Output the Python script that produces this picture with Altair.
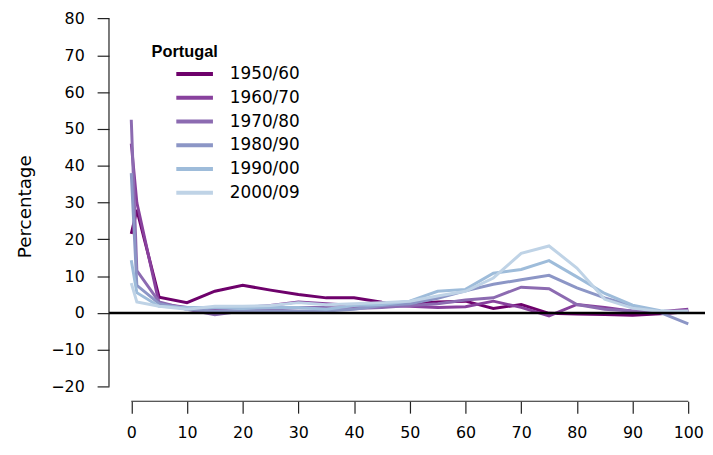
import altair as alt
import pandas as pd

ages = [0, 1, 5, 10, 15, 20, 25, 30, 35, 40, 45, 50, 55, 60, 65, 70, 75, 80, 85, 90, 95, 100]
periods = ["1950/60", "1960/70", "1970/80", "1980/90", "1990/00", "2000/09"]

s1950 = [21.5, 28.0, 4.3, 2.8, 5.9, 7.5, 6.2, 5.0, 4.1, 4.1, 2.9, 2.5, 3.0, 3.2, 1.2, 2.3, -0.1, -0.3, -0.4, -0.6, -0.2, 0.3]
s1960 = [46.0, 30.0, 2.5, 1.5, 1.0, 1.5, 2.0, 3.0, 2.5, 2.0, 2.0, 1.8, 1.5, 1.7, 3.2, 1.5, -0.8, 2.3, 1.5, 0.5, 0.3, 1.0]
s1970 = [52.5, 11.5, 3.0, 1.0, -0.5, 0.5, 1.0, 1.5, 1.5, 1.2, 1.5, 2.0, 2.5, 3.5, 4.1, 7.0, 6.6, 2.3, 1.0, 0.5, 0.2, 0.5]
s1980 = [38.0, 7.5, 2.5, 1.0, 0.5, 0.5, 0.5, 0.5, 0.5, 1.0, 2.0, 2.5, 4.0, 6.0, 7.8, 9.0, 10.2, 6.8, 4.1, 1.9, 0.1, -3.0]
s1990 = [14.3, 5.5, 1.8, 1.5, 1.5, 1.2, 1.5, 1.5, 1.0, 2.0, 2.3, 3.2, 5.9, 6.4, 10.8, 11.8, 14.2, 9.8, 5.3, 2.1, 0.6, 0.1]
s2000 = [8.1, 3.0, 1.8, 1.0, 1.8, 1.8, 2.0, 2.8, 2.2, 2.5, 2.8, 3.2, 4.6, 5.9, 9.5, 16.2, 18.2, 12.2, 3.7, 1.3, 0.4, 0.5]
series = [s1950, s1960, s1970, s1980, s1990, s2000]

colors = ["#6e016b", "#88419d", "#8c6bb1", "#8c96c6", "#9ebcda", "#bfd3e6"]
x_ticks = list(range(0, 101, 10))
y_ticks = list(range(-20, 81, 10))
x_domain = [-4, 103]
y_domain = [-24, 82]

rows = []
for p, vals in zip(periods, series):
    for a, v in zip(ages, vals):
        rows.append({"age": a, "pct": v, "period": p})
df = pd.DataFrame(rows)

FONT = "DejaVu Sans"
xs = alt.Scale(domain=x_domain, nice=False, zero=False)
ys = alt.Scale(domain=y_domain, nice=False, zero=False)

x_axis = alt.Axis(
    values=x_ticks, title=None, domain=False, grid=False, tickSize=12,
    tickWidth=1.2, tickColor="#222222", labelPadding=12, labelFontSize=16,
    labelFont=FONT, labelColor="black", labelFlush=False, labelOverlap=False)
y_axis = alt.Axis(
    values=y_ticks, title="Percentage", domain=False, grid=False, tickSize=12,
    tickWidth=1.2, tickColor="#222222", labelPadding=13, labelFontSize=16,
    labelFont=FONT, labelColor="black", labelOverlap=False, titleFont=FONT,
    titleFontSize=18.5, titleFontWeight="normal", titleColor="black", titlePadding=16)

lines = alt.Chart(df).mark_line(strokeWidth=3).encode(
    x=alt.X("age:Q", scale=xs, axis=x_axis),
    y=alt.Y("pct:Q", scale=ys, axis=y_axis),
    color=alt.Color("period:N", scale=alt.Scale(domain=periods, range=colors),
        legend=alt.Legend(title="Portugal", orient="none", legendX=43, legendY=33,
            titleFont="Liberation Sans", titleFontSize=16.5, titleFontWeight="bold", titleColor="black",
            labelFont=FONT, labelFontSize=17, labelColor="black",
            symbolType="stroke", symbolSize=1369, symbolStrokeWidth=4,
            symbolOffset=23, labelOffset=15, clipHeight=20, rowPadding=4, titlePadding=4)),
)

zero = alt.Chart(pd.DataFrame({"y": [0]})).mark_rule(color="black", strokeWidth=2.5).encode(
    y=alt.Y("y:Q", scale=ys, axis=y_axis)
)

xaxis_line = alt.Chart(pd.DataFrame({"x": [x_ticks[0]], "x2": [x_ticks[-1]], "y": [y_domain[0]]})).mark_rule(
    color="#222222", strokeWidth=1.2).encode(
    x=alt.X("x:Q", scale=xs, axis=x_axis), x2="x2:Q", y=alt.Y("y:Q", scale=ys, axis=y_axis)
)
yaxis_line = alt.Chart(pd.DataFrame({"x": [x_domain[0]], "y": [y_ticks[0]], "y2": [y_ticks[-1]]})).mark_rule(
    color="#222222", strokeWidth=1.2).encode(
    x=alt.X("x:Q", scale=xs, axis=x_axis), y=alt.Y("y:Q", scale=ys, axis=y_axis), y2="y2:Q"
)

chart = alt.layer(lines, zero, xaxis_line, yaxis_line).properties(
    width=602, height=394,
    autosize=alt.AutoSizeParams(type="none"),
    padding={"left": 102, "top": 1, "right": 0, "bottom": 45},
).configure(background="white").configure_view(stroke=None)

chart.save("out.html", embed_options={"renderer": "svg", "actions": False})
